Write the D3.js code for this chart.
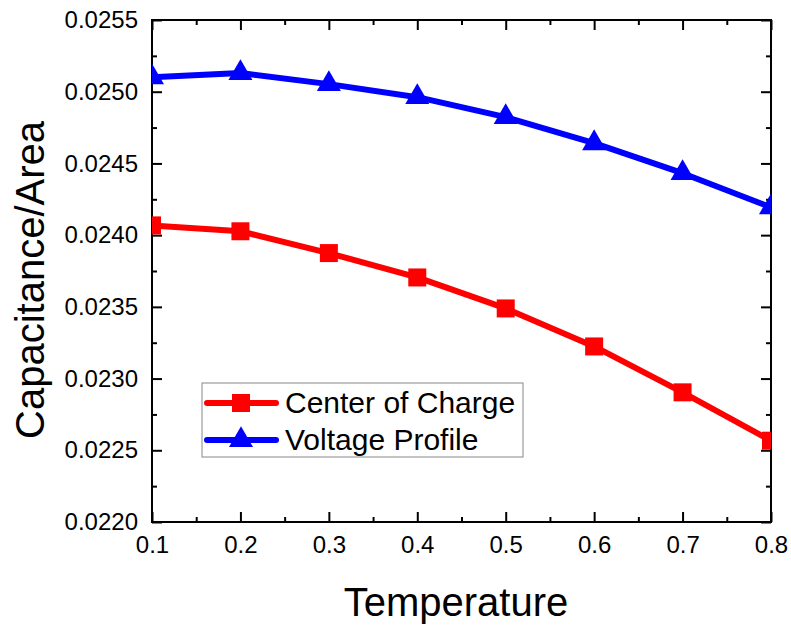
<!DOCTYPE html>
<html><head><meta charset="utf-8">
<script src="https://cdn.jsdelivr.net/npm/d3@7"></script>
<style>body{margin:0;background:#fff}svg{display:block}text{font-family:"Liberation Sans",Arial,sans-serif}</style>
</head><body>
<svg id="c" width="791" height="625"></svg>
<script>
const temperature = [0.1,0.2,0.3,0.4,0.5,0.6,0.7,0.8];
const centerOfCharge = [0.024068,0.024027,0.023875,0.023705,0.023489,0.023224,0.022904,0.022567];
const voltageProfile = [0.025100,0.025130,0.025053,0.024962,0.024823,0.024641,0.024432,0.024194];
const xTicks = [0.1,0.2,0.3,0.4,0.5,0.6,0.7,0.8];
const yTicks = [0.0220,0.0225,0.0230,0.0235,0.0240,0.0245,0.0250,0.0255];
const seriesNames = ["Center of Charge","Voltage Profile"];

const svg = d3.select("#c");
const L=152, R=771, T=20, B=522;
const x = d3.scaleLinear().domain([0.1,0.8]).range([L,R]);
const y = d3.scaleLinear().domain([0.0220,0.0255]).range([B,T]);

const xMinor = d3.range(0.15,0.8,0.1);
const yMinor = d3.range(0.02225,0.0255,0.0005);

const g = svg.append("g");
function tickAxis(axisGen, transform){
  const a = g.append("g").attr("transform",transform).call(axisGen);
  a.select(".domain").remove();
  a.selectAll("line").attr("stroke","#000").attr("stroke-width",2);
  return a;
}
tickAxis(d3.axisBottom(x).tickValues(xTicks).tickSize(-10).tickPadding(14).tickFormat(d3.format(".1f")),`translate(0,${B})`)
  .selectAll("text").attr("font-size",24).attr("fill","#000");
tickAxis(d3.axisBottom(x).tickValues(xMinor).tickSize(-5).tickFormat(""),`translate(0,${B})`);
tickAxis(d3.axisTop(x).tickValues(xTicks).tickSize(-10).tickFormat(""),`translate(0,${T})`);
tickAxis(d3.axisTop(x).tickValues(xMinor).tickSize(-5).tickFormat(""),`translate(0,${T})`);
tickAxis(d3.axisLeft(y).tickValues(yTicks).tickSize(-10).tickPadding(14).tickFormat(d3.format(".4f")),`translate(${L},0)`)
  .selectAll("text").attr("font-size",24).attr("fill","#000");
tickAxis(d3.axisLeft(y).tickValues(yMinor).tickSize(-5).tickFormat(""),`translate(${L},0)`);
tickAxis(d3.axisRight(y).tickValues(yTicks).tickSize(-10).tickFormat(""),`translate(${R},0)`);
tickAxis(d3.axisRight(y).tickValues(yMinor).tickSize(-5).tickFormat(""),`translate(${R},0)`);

svg.append("rect").attr("x",L).attr("y",T).attr("width",R-L).attr("height",B-T)
  .attr("fill","none").attr("stroke","#000").attr("stroke-width",2);

svg.append("clipPath").attr("id","clip").append("rect").attr("x",L).attr("y",T).attr("width",R-L).attr("height",B-T);
const data = svg.append("g").attr("clip-path","url(#clip)");
const line = d3.line().x(d=>x(d[0])).y(d=>y(d[1]));
const red = temperature.map((t,i)=>[t,centerOfCharge[i]]);
const blue = temperature.map((t,i)=>[t,voltageProfile[i]]);
data.append("path").datum(red).attr("d",line).attr("fill","none").attr("stroke","#ff0000").attr("stroke-width",6).attr("stroke-linejoin","round");
data.append("path").datum(blue).attr("d",line).attr("fill","none").attr("stroke","#0000ff").attr("stroke-width",6).attr("stroke-linejoin","round");
const sq = d3.symbol().type(d3.symbolSquare).size(18*18);
const tri = d3.symbol().type(d3.symbolTriangle).size(250);
data.selectAll(".sq").data(red).join("path").attr("d",sq).attr("transform",d=>`translate(${x(d[0])},${y(d[1])})`).attr("fill","#ff0000");
data.selectAll(".tri").data(blue).join("path").attr("d",tri).attr("transform",d=>`translate(${x(d[0])},${y(d[1])})`).attr("fill","#0000ff");

const lg = svg.append("g");
lg.append("rect").attr("x",202).attr("y",383).attr("width",321).attr("height",74).attr("fill","#fff").attr("stroke","#888").attr("stroke-width",1);
const rows=[{c:"#ff0000",s:sq,n:seriesNames[0],yy:403},{c:"#0000ff",s:tri,n:seriesNames[1],yy:440}];
rows.forEach(r=>{
  lg.append("line").attr("x1",207).attr("x2",276).attr("y1",r.yy).attr("y2",r.yy).attr("stroke",r.c).attr("stroke-width",6).attr("stroke-linecap","round");
  lg.append("path").attr("d",r.s).attr("transform",`translate(241,${r.yy})`).attr("fill",r.c);
  lg.append("text").attr("x",285).attr("y",r.yy+10).attr("font-size",30).attr("fill","#000").text(r.n);
});

svg.append("text").attr("x",456).attr("y",616).attr("text-anchor","middle").attr("font-size",40).attr("fill","#000").text("Temperature");
svg.append("text").attr("transform","translate(44,280) rotate(-90)").attr("text-anchor","middle").attr("font-size",40).attr("fill","#000").text("Capacitance/Area");
</script>
</body></html>
